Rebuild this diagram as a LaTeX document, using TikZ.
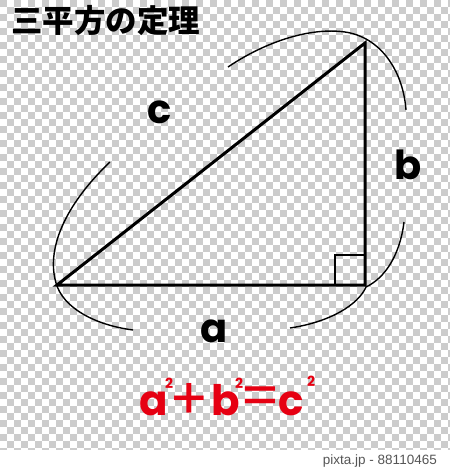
\documentclass[tikz,border=0pt]{standalone}
\usepackage{fontspec}
\newfontfamily\pop{Poppins}
\newfontfamily\cjk{Noto Sans CJK JP}
\newfontfamily\lib{Liberation Sans}
\definecolor{eqred}{RGB}{230,0,18}
\definecolor{chk}{RGB}{204,204,204}
\definecolor{wmgray}{RGB}{85,85,85}
\tikzset{
  tri/.style={line width=3pt, black},
  sqr/.style={line width=1.8pt, black},
  arcline/.style={line width=1.4pt, black},
  lbl/.style={inner sep=0pt, font=\pop\bfseries\fontsize{40}{40}\selectfont},
  eq/.style={inner sep=0pt, text=eqred, font=\pop\bfseries\fontsize{42}{42}\selectfont},
  eqop/.style={inner sep=0pt, text=eqred, font=\pop\fontsize{58}{58}\selectfont},
  sup/.style={inner sep=0pt, text=eqred, font=\pop\bfseries\fontsize{14}{14}\selectfont},
}
\begin{document}
\begin{tikzpicture}[x=1pt,y=-1pt]
\useasboundingbox (0,0) rectangle (450,469);
\fill[white] (0,0) rectangle (450,469);
% checkerboard
\begin{scope}
\clip (0,0) rectangle (450,449);
\foreach \j in {0,...,64}{
  \pgfmathtruncatemacro{\st}{mod(\j,2)}
  \pgfmathtruncatemacro{\nx}{\st+2}
  \foreach \i in {\st,\nx,...,65}{
    \fill[chk] (\i*7,\j*7) rectangle ++(7,7);
  }
}
\end{scope}
% title
\node[anchor=west, inner sep=0pt, font=\cjk\bfseries\fontsize{31.5}{31.5}\selectfont] (title) at (11,21) {三平方の定理};
% triangle
\coordinate (A) at (57,285);
\coordinate (C) at (365,285);
\coordinate (B) at (365,43);
\draw[tri] (A) -- (C) -- (B) -- cycle;
% right angle mark
\coordinate (S1) at (335,285);
\coordinate (S2) at (335,255);
\coordinate (S3) at (365,255);
\draw[sqr] (S1) -- (S2) -- (S3);
% arcs
\coordinate (L1) at (110,162);
\coordinate (L2) at (56,283);
\coordinate (L3) at (133,330);
\draw[arcline] (L1) .. controls (70,200) and (45,245) .. (L2) .. controls (63,308) and (95,325) .. (L3);
\coordinate (T1) at (228,67);
\coordinate (T2) at (345,32);
\coordinate (T3) at (406,110);
\draw[arcline] (T1) .. controls (265,42) and (310,27) .. (T2) .. controls (380,37) and (403,70) .. (T3);
\coordinate (R1) at (404,222);
\coordinate (R2) at (366,287);
\coordinate (R3) at (290,328);
\draw[arcline] (R1) .. controls (400,255) and (385,278) .. (R2) .. controls (358,305) and (330,322) .. (R3);
% side labels
\node[lbl] (lc) at (160,112) {c};
\node[lbl] (lb) at (408,165) {b};
\node[lbl] (la) at (214,331) {a};
% equation
\node[eq, anchor=base] (ea) at (154,415) {a};
\node[sup] (s1) at (169,383) {2};
\node[eqop] (plus) at (189,401) {+};
\node[eq, anchor=base] (eb) at (226,415) {b};
\node[sup] (s2) at (239,383) {2};
\node[eqop] (eqs) at (260,402) {=};
\node[eq, anchor=base] (ec) at (291,415) {c};
\node[sup] (s3) at (311,381) {2};
% footer
\node[anchor=base east, inner sep=0pt, text=wmgray, font=\lib\fontsize{13.5}{13.5}\selectfont] (foot) at (437,464) {pixta.jp - 88110465};
\end{tikzpicture}
\end{document}
